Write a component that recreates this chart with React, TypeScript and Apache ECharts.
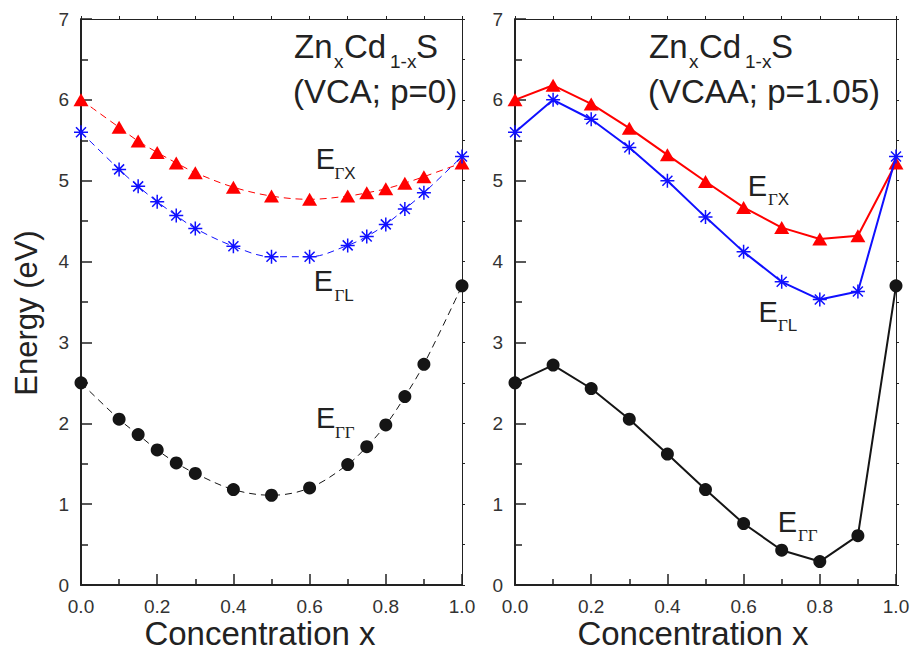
import React, { useEffect, useRef } from "react";
import * as echarts from "echarts";

// ---- data ----
const xVCA = [0, 0.1, 0.15, 0.2, 0.25, 0.3, 0.4, 0.5, 0.6, 0.7, 0.75, 0.8, 0.85, 0.9, 1.0];
const vcaGX = [6.0, 5.66, 5.49, 5.35, 5.22, 5.1, 4.92, 4.81, 4.77, 4.81, 4.85, 4.9, 4.97, 5.05, 5.22];
const vcaGL = [5.6, 5.14, 4.93, 4.74, 4.57, 4.41, 4.19, 4.06, 4.06, 4.2, 4.31, 4.46, 4.65, 4.85, 5.3];
const vcaGG = [2.5, 2.05, 1.86, 1.67, 1.51, 1.38, 1.18, 1.11, 1.2, 1.49, 1.71, 1.98, 2.33, 2.73, 3.7];

const xVCAA = [0, 0.1, 0.2, 0.3, 0.4, 0.5, 0.6, 0.7, 0.8, 0.9, 1.0];
const vcaaGX = [6.0, 6.18, 5.95, 5.65, 5.32, 4.99, 4.67, 4.42, 4.28, 4.32, 5.22];
const vcaaGL = [5.6, 6.0, 5.76, 5.41, 5.0, 4.55, 4.12, 3.75, 3.53, 3.63, 5.3];
const vcaaGG = [2.5, 2.72, 2.43, 2.05, 1.62, 1.18, 0.76, 0.43, 0.29, 0.61, 3.7];

const xTitle = "Concentration x";
const yTitle = "Energy (eV)";

const SANS = "'Liberation Sans', Arial, Helvetica, sans-serif";
const SERIF = "'Liberation Serif', 'Times New Roman', serif";
const TXT = "#222";
const AX = "#222";

const STAR = "path://M0,-7L0,7M-7,0L7,0M-5,-5L5,5M-5,5L5,-5";

const pairs = (xs: number[], ys: number[]) => xs.map((x, i) => [x, ys[i]]);

function txt(x: number, y: number, text: string, size: number, extra: any = {}) {
  return {
    type: "text",
    x,
    y,
    silent: true,
    z: 100,
    style: {
      text,
      fontSize: size,
      fontFamily: SANS,
      fill: TXT,
      align: "left",
      verticalAlign: "middle",
      ...extra,
    },
  };
}

function subGamma(x: number, y: number, second: string, secondSerif: boolean) {
  return {
    type: "text",
    x,
    y,
    silent: true,
    z: 100,
    style: {
      text: `{g|Γ}{s|${second}}`,
      fill: TXT,
      align: "left",
      verticalAlign: "middle",
      rich: {
        g: { fontFamily: SERIF, fontSize: 17, fill: TXT },
        s: { fontFamily: secondSerif ? SERIF : SANS, fontSize: 17, fill: TXT },
      },
    },
  };
}

function eLabel(ex: number, ey: number, sx: number, sy: number, second: string, serif: boolean) {
  return [txt(ex, ey, "E", 29), subGamma(sx, sy, second, serif)];
}

function title(dx: number, paren: string) {
  return [
    txt(294 + dx, 46.9, "Zn", 33),
    txt(334 + dx, 61.7, "x", 19),
    txt(344 + dx, 46.9, "Cd", 33),
    txt(390 + dx, 61.7, "1-x", 19),
    txt(416 + dx, 46.9, "S", 33),
    txt(293 + dx, 91.9, paren, 33),
  ];
}

function mainX(gridIndex: number) {
  return {
    type: "value",
    gridIndex,
    position: "bottom",
    min: 0,
    max: 1,
    interval: 0.2,
    axisLine: { show: true, onZero: false, lineStyle: { color: AX, width: 2 } },
    axisTick: { show: true, inside: true, length: 11, lineStyle: { color: AX, width: 1.5 } },
    minorTick: { show: true, splitNumber: 2, length: 6, lineStyle: { color: AX, width: 1.5 } },
    axisLabel: {
      show: true,
      margin: 12,
      fontSize: 19,
      fontFamily: SANS,
      color: "#333",
      formatter: (v: number) => v.toFixed(1),
    },
    splitLine: { show: false },
  };
}

function topX(gridIndex: number) {
  return {
    type: "value",
    gridIndex,
    position: "top",
    min: 0,
    max: 1,
    interval: 0.1,
    axisLine: { show: true, onZero: false, lineStyle: { color: AX, width: 1 } },
    axisTick: { show: true, inside: false, length: 3, lineStyle: { color: AX, width: 1 } },
    axisLabel: { show: false },
    splitLine: { show: false },
  };
}

function mainY(gridIndex: number) {
  return {
    type: "value",
    gridIndex,
    position: "left",
    min: 0,
    max: 7,
    interval: 1,
    axisLine: { show: true, onZero: false, lineStyle: { color: AX, width: 2 } },
    axisTick: { show: true, inside: true, length: 11, lineStyle: { color: AX, width: 1.5 } },
    minorTick: { show: true, splitNumber: 2, length: 7, lineStyle: { color: AX, width: 1.5 } },
    axisLabel: { show: true, margin: 12, fontSize: 19, fontFamily: SANS, color: "#333" },
    splitLine: { show: false },
  };
}

function rightY(gridIndex: number) {
  return {
    type: "value",
    gridIndex,
    position: "right",
    min: 0,
    max: 7,
    interval: 0.5,
    axisLine: { show: true, onZero: false, lineStyle: { color: AX, width: 1 } },
    axisTick: { show: true, inside: false, length: 3, lineStyle: { color: AX, width: 1 } },
    axisLabel: { show: false },
    splitLine: { show: false },
  };
}

function seriesFor(xi: number, yi: number, xs: number[], gg: number[], gx: number[], gl: number[], dashed: boolean) {
  const lw = dashed ? 1 : 2;
  const lt: any = dashed ? [7, 5] : "solid";
  const smooth = dashed ? 0.35 : false;
  return [
    {
      type: "line",
      xAxisIndex: xi,
      yAxisIndex: yi,
      data: pairs(xs, gg),
      smooth,
      clip: false,
      symbol: "circle",
      symbolSize: 13,
      itemStyle: { color: "#151515" },
      lineStyle: { color: "#151515", width: lw, type: lt },
      z: 3,
    },
    {
      type: "line",
      xAxisIndex: xi,
      yAxisIndex: yi,
      data: pairs(xs, gx),
      smooth,
      clip: false,
      symbol: "triangle",
      symbolSize: [15, 13],
      itemStyle: { color: "#ff0000" },
      lineStyle: { color: "#ff0000", width: lw, type: lt },
      z: 4,
    },
    {
      type: "line",
      xAxisIndex: xi,
      yAxisIndex: yi,
      data: pairs(xs, gl),
      smooth,
      clip: false,
      symbol: STAR,
      symbolSize: 14,
      itemStyle: { color: "rgba(0,0,0,0)", borderColor: "#1010ff", borderWidth: 1.5 },
      lineStyle: { color: "#1010ff", width: lw, type: lt },
      z: 5,
    },
  ];
}

export default function App() {
  const ref = useRef<HTMLDivElement>(null);

  useEffect(() => {
    if (!ref.current) return;
    const chart = echarts.init(ref.current, undefined, { renderer: "svg" });

    const graphics: any[] = [
      ...title(0, "(VCA; p=0)"),
      ...title(355, "(VCAA; p=1.05)"),
      ...eLabel(315.7, 159.3, 334.5, 173.4, "X", false),
      ...eLabel(313.7, 280.7, 334.5, 295.8, "L", false),
      ...eLabel(316, 417.7, 335, 432.4, "Γ", true),
      ...eLabel(747.7, 185.7, 768, 199.1, "X", false),
      ...eLabel(758.4, 311.7, 778, 325.1, "L", false),
      ...eLabel(777.7, 521.7, 798, 535.8, "Γ", true),
      txt(260, 633.6, xTitle, 33, { align: "center" }),
      txt(693, 633.6, xTitle, 33, { align: "center" }),
      {
        type: "text",
        x: 26,
        y: 313,
        rotation: Math.PI / 2,
        silent: true,
        style: {
          text: yTitle,
          fontSize: 31,
          fontFamily: SANS,
          fill: TXT,
          align: "center",
          verticalAlign: "middle",
        },
      },
    ];

    chart.setOption({
      animation: false,
      backgroundColor: "#ffffff",
      grid: [
        { left: 81, top: 19, width: 381, height: 566 },
        { left: 515, top: 19, width: 381, height: 566 },
      ],
      xAxis: [mainX(0), topX(0), mainX(1), topX(1)],
      yAxis: [mainY(0), rightY(0), mainY(1), rightY(1)],
      series: [
        ...seriesFor(0, 0, xVCA, vcaGG, vcaGX, vcaGL, true),
        ...seriesFor(2, 2, xVCAA, vcaaGG, vcaaGX, vcaaGL, false),
      ],
      graphic: graphics,
    });

    return () => chart.dispose();
  }, []);

  return (
    <div
      ref={ref}
      style={{ position: "fixed", left: 0, top: 0, width: 914, height: 652, background: "#fff" }}
    />
  );
}
